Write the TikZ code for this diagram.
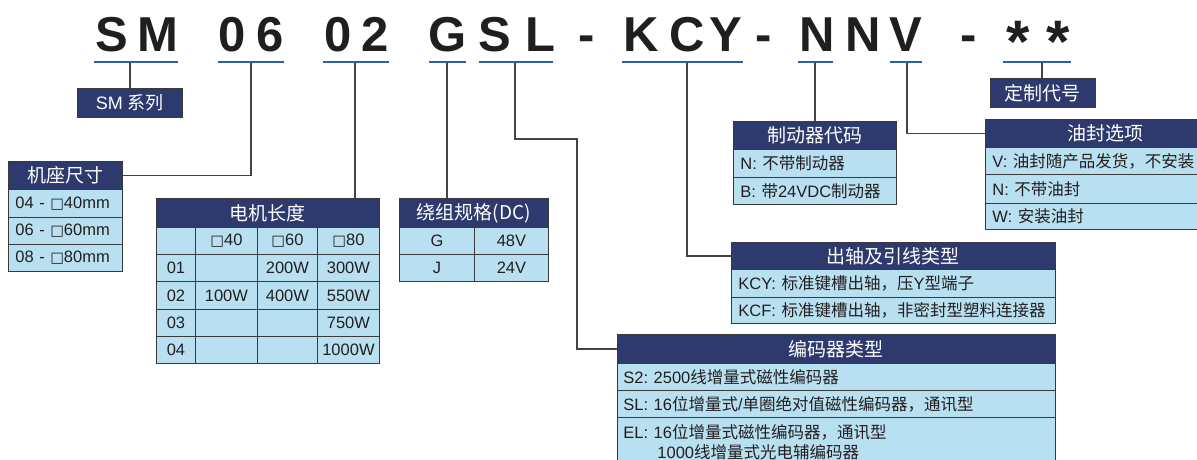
\documentclass[tikz,border=0pt]{standalone}
\usepackage{fontspec}
\setmainfont{Liberation Sans}
\newfontfamily\cjk{Noto Sans CJK SC}
\newfontfamily\symf{DejaVu Sans}
\newcommand\sqbox{{\symf\fontsize{14.5}{14.5}\selectfont □}}
\frenchspacing
\definecolor{navy}{HTML}{2E3A6E}
\definecolor{cellblue}{HTML}{B8E0F0}
\definecolor{ulblue}{HTML}{2A62A6}
\definecolor{bord}{HTML}{3A3A3A}
\definecolor{wirec}{HTML}{444444}
\definecolor{ink}{HTML}{231F20}
\begin{document}
\begin{tikzpicture}[x=1pt,y=-1pt,
  hdr/.style={draw=bord, line width=0.9pt, fill=navy, text=white, anchor=north west, inner sep=0pt, font=\cjk\fontsize{19}{19}\selectfont},
  cellL/.style={draw=bord, line width=0.9pt, fill=cellblue, text=ink, anchor=north west, inner xsep=7pt, inner ysep=0pt, align=left, font=\fontsize{16.5}{20}\selectfont},
  cellC/.style={draw=bord, line width=0.9pt, fill=cellblue, text=ink, anchor=north west, inner sep=0pt, font=\fontsize{16.5}{20}\selectfont},
  ttl/.style={anchor=base, inner sep=0pt, font=\bfseries\fontsize{49}{49}\selectfont, text=black!88},
  star/.style={anchor=center, inner sep=0pt, font=\bfseries\fontsize{60}{60}\selectfont, text=black!88},
  uline/.style={draw=ulblue, line width=2pt},
  wire/.style={draw=wirec, line width=1.2pt},
]
\useasboundingbox (0,0) rectangle (1197,460);
\clip (0,0) rectangle (1197,460);

% ---- title characters ----
\node[ttl] (t1) at (112,52) {S};
\node[ttl] (t2) at (158,52) {M};
\node[ttl] (t3) at (232,52) {0};
\node[ttl] (t4) at (270,52) {6};
\node[ttl] (t5) at (338,52) {0};
\node[ttl] (t6) at (375,52) {2};
\node[ttl] (t7) at (448,52) {G};
\node[ttl] (t8) at (495,52) {S};
\node[ttl] (t9) at (540,52) {L};
\node[ttl] (t10) at (587,52) {-};
\node[ttl] (t11) at (641,52) {K};
\node[ttl] (t12) at (687,52) {C};
\node[ttl] (t13) at (726,52) {Y};
\node[ttl] (t14) at (764,52) {-};
\node[ttl] (t15) at (817,52) {N};
\node[ttl] (t16) at (863,52) {N};
\node[ttl] (t17) at (906,52) {V};
\node[ttl] (t18) at (969,52) {-};
\node[star] (t19) at (1018,42) {*};
\node[star] (t20) at (1058,42) {*};

% ---- connector start points ----
\coordinate (cSM) at (130,62);
\coordinate (c06) at (251,62);
\coordinate (c02) at (355,62);
\coordinate (cG) at (447,62);
\coordinate (cSL) at (515,62);
\coordinate (jSL) at (577,139);
\coordinate (cKCY) at (687,62);
\coordinate (cN) at (815,62);
\coordinate (cV) at (907,62);
\coordinate (cST) at (1042,62);

% ---- SM series / custom code ----
\node[hdr, minimum width=105pt, minimum height=29pt, font=\fontsize{18}{18}\selectfont] (sm) at (77,88) {SM {\cjk 系列}};
\node[hdr, minimum width=105pt, minimum height=29pt] (custom) at (990,78) {定制代号};

% ---- frame size ----
\node[hdr, minimum width=114pt, minimum height=28pt] (seatH) at (8,161) {机座尺寸};
\node[cellL, text width=100pt, minimum height=28pt] (seat1) at (8,189) {04 - \sqbox40mm};
\node[cellL, text width=100pt, minimum height=27pt] (seat2) at (8,217) {06 - \sqbox60mm};
\node[cellL, text width=100pt, minimum height=27pt] (seat3) at (8,244) {08 - \sqbox80mm};

% ---- motor length table ----
\node[hdr, minimum width=223pt, minimum height=29pt] (lenH) at (156,198) {电机长度};
\node[cellC, minimum width=39pt, minimum height=27.2pt] (l00) at (156,227) {};
\node[cellC, minimum width=62pt, minimum height=27.2pt] (l01) at (195,227) {\sqbox40};
\node[cellC, minimum width=60pt, minimum height=27.2pt] (l02) at (257,227) {\sqbox60};
\node[cellC, minimum width=62pt, minimum height=27.2pt] (l03) at (317,227) {\sqbox80};
\node[cellC, minimum width=39pt, minimum height=27.2pt] (l10) at (156,254.2) {01};
\node[cellC, minimum width=62pt, minimum height=27.2pt] (l11) at (195,254.2) {};
\node[cellC, minimum width=60pt, minimum height=27.2pt] (l12) at (257,254.2) {200W};
\node[cellC, minimum width=62pt, minimum height=27.2pt] (l13) at (317,254.2) {300W};
\node[cellC, minimum width=39pt, minimum height=27.2pt] (l20) at (156,281.4) {02};
\node[cellC, minimum width=62pt, minimum height=27.2pt] (l21) at (195,281.4) {100W};
\node[cellC, minimum width=60pt, minimum height=27.2pt] (l22) at (257,281.4) {400W};
\node[cellC, minimum width=62pt, minimum height=27.2pt] (l23) at (317,281.4) {550W};
\node[cellC, minimum width=39pt, minimum height=27.2pt] (l30) at (156,308.6) {03};
\node[cellC, minimum width=62pt, minimum height=27.2pt] (l31) at (195,308.6) {};
\node[cellC, minimum width=60pt, minimum height=27.2pt] (l32) at (257,308.6) {};
\node[cellC, minimum width=62pt, minimum height=27.2pt] (l33) at (317,308.6) {750W};
\node[cellC, minimum width=39pt, minimum height=27.2pt] (l40) at (156,335.8) {04};
\node[cellC, minimum width=62pt, minimum height=27.2pt] (l41) at (195,335.8) {};
\node[cellC, minimum width=60pt, minimum height=27.2pt] (l42) at (257,335.8) {};
\node[cellC, minimum width=62pt, minimum height=27.2pt] (l43) at (317,335.8) {1000W};

% ---- winding ----
\node[hdr, minimum width=149pt, minimum height=29pt] (windH) at (399,198) {绕组规格(DC)};
\node[cellC, minimum width=75pt, minimum height=27pt] (w10) at (399,227) {G};
\node[cellC, minimum width=74pt, minimum height=27pt] (w11) at (474,227) {48V};
\node[cellC, minimum width=75pt, minimum height=27pt] (w20) at (399,254) {J};
\node[cellC, minimum width=74pt, minimum height=27pt] (w21) at (474,254) {24V};

% ---- brake ----
\node[hdr, minimum width=163pt, minimum height=28pt] (brakeH) at (733,121) {制动器代码};
\node[cellL, text width=149pt, minimum height=28pt] (brake1) at (733,149) {N: {\cjk 不带制动器}};
\node[cellL, text width=149pt, minimum height=27pt] (brake2) at (733,177) {B: {\cjk 带}24VDC{\cjk 制动器}};

% ---- oil seal ----
\node[hdr, minimum width=240pt, minimum height=28pt] (sealH) at (985,119) {油封选项};
\node[cellL, text width=226pt, minimum height=27pt] (seal1) at (985,147) {V: {\cjk 油封随产品发货，不安装}};
\node[cellL, text width=226pt, minimum height=29pt] (seal2) at (985,174) {N: {\cjk 不带油封}};
\node[cellL, text width=226pt, minimum height=26pt] (seal3) at (985,203) {W: {\cjk 安装油封}};

% ---- shaft & lead ----
\node[hdr, minimum width=324pt, minimum height=27pt] (shaftH) at (731,242) {出轴及引线类型};
\node[cellL, text width=310pt, minimum height=28pt] (shaft1) at (731,269) {KCY: {\cjk 标准键槽出轴，压}Y{\cjk 型端子}};
\node[cellL, text width=310pt, minimum height=26pt] (shaft2) at (731,297) {KCF: {\cjk 标准键槽出轴，非密封型塑料连接器}};

% ---- encoder ----
\node[hdr, minimum width=438pt, minimum height=29pt] (encH) at (617,334) {编码器类型};
\node[cellL, inner xsep=6pt, text width=426pt, minimum height=27pt] (enc1) at (617,363) {S2: 2500{\cjk 线增量式磁性编码器}};
\node[cellL, inner xsep=6pt, text width=426pt, minimum height=27pt] (enc2) at (617,390) {SL: 16{\cjk 位增量式}/{\cjk 单圈绝对值磁性编码器，通讯型}};
\node[cellL, inner xsep=6pt, text width=426pt, minimum height=50pt] (enc3) at (617,417) {EL: 16{\cjk 位增量式磁性编码器，通讯型}\\\hspace*{34pt}1000{\cjk 线增量式光电辅编码器}};

% ---- connectors ----
\draw[wire] (cSM) -- (cSM |- sm.north);
\draw[wire] (c06) |- (seatH.east);
\draw[wire] (c02) -- (c02 |- lenH.north);
\draw[wire] (cG) -- (cG |- windH.north);
\draw[wire] (cSL) |- (jSL) |- (encH.west);
\draw[wire] (cKCY) |- (shaftH.west);
\draw[wire] (cN) -- (cN |- brakeH.north);
\draw[wire] (cV) |- (sealH.west);
\draw[wire] (cST) -- (cST |- custom.north);

% ---- underlines ----
\draw[uline] (94,62) -- (178,62);
\draw[uline] (218,62) -- (284,62);
\draw[uline] (323,62) -- (389,62);
\draw[uline] (429,62) -- (466,62);
\draw[uline] (479,62) -- (553,62);
\draw[uline] (622,62) -- (743,62);
\draw[uline] (798,62) -- (833,62);
\draw[uline] (890,62) -- (922,62);
\draw[uline] (1003,62) -- (1071,62);
\end{tikzpicture}
\end{document}
